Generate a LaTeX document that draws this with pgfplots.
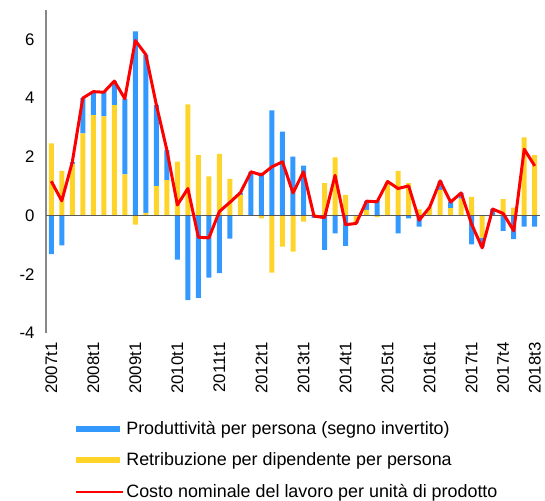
\documentclass[border=0pt]{standalone}
\usepackage{pgfplots}
\pgfplotsset{compat=1.18}
\usepackage{pgfplotstable}
\usepackage{fontspec}
\setmainfont{Liberation Sans}
\definecolor{cblue}{HTML}{3399FF}
\definecolor{cyel}{HTML}{FFD42A}
\definecolor{cred}{HTML}{FF0000}
\definecolor{zline}{HTML}{595959}
\definecolor{yline}{HTML}{888888}

\pgfplotstableread{
x ypos bpos yneg bneg ulc
0 2.46 0 0 -1.31 1.17
1 1.52 0 0 -1.02 0.50
2 1.76 0.06 0 0 1.82
3 2.80 1.20 0 0 4.00
4 3.42 0.80 0 0 4.22
5 3.38 0.82 0 0 4.20
6 3.76 0.82 0 0 4.58
7 1.40 2.58 0 0 3.98
8 0 6.27 -0.31 0 5.96
9 0.09 5.39 0 0 5.48
10 1.00 2.77 0 0 3.77
11 1.21 1.02 0 0 2.23
12 1.84 0 0 -1.50 0.36
13 3.79 0 0 -2.88 0.92
14 2.06 0 0 -2.80 -0.74
15 1.33 0 0 -2.11 -0.76
16 2.10 0 0 -1.96 0.14
17 1.25 0 0 -0.79 0.45
18 0.70 0.08 0 0 0.78
19 0 1.49 0 0 1.49
20 0 1.46 -0.10 0 1.38
21 0 3.58 -1.94 0 1.66
22 0 2.86 -1.06 0 1.83
23 0 2.01 -1.23 0 0.77
24 0 1.70 -0.21 0 1.49
25 0.05 0 0 -0.08 -0.02
26 1.10 0 0 -1.17 -0.07
27 1.98 0 0 -0.61 1.37
28 0.70 0 0 -1.03 -0.31
29 0 0 -0.22 -0.05 -0.27
30 0.19 0.30 0 0 0.49
31 0 0.52 -0.05 0 0.47
32 1.16 0 0 0 1.16
33 1.52 0 0 -0.61 0.92
34 1.10 0 0 -0.10 1.01
35 0.21 0 0 -0.38 -0.16
36 0.28 0 0 0 0.28
37 0.87 0.30 0 0 1.18
38 0.25 0.22 0 0 0.46
39 0.58 0.18 0 0 0.77
40 0.64 0 0 -0.98 -0.30
41 0 0 -0.75 -0.32 -1.10
42 0 0.22 0 0 0.22
43 0.56 0 0 -0.52 0.07
44 0.27 0 0 -0.80 -0.52
45 2.66 0 0 -0.38 2.26
46 2.06 0 0 -0.38 1.69
}\data

\pgfplotsset{base/.style={width=494bp,height=323bp,scale only axis,
  xmin=-0.5,xmax=46.5,ymin=-4,ymax=7}}

\begin{document}
\begin{tikzpicture}
\path (-46bp,-166bp) rectangle (499bp,333bp);
% positive stack + visible axis
\begin{axis}[base, ybar stacked, bar width=5bp,
  separate axis lines,
  axis x line*=bottom, axis y line*=left,
  x axis line style={draw=none},
  y axis line style={draw=yline, line width=1.3bp},
  xtick={0,4,...,40,43,46},
  xticklabels={2007t1,2008t1,2009t1,2010t1,2011t1,2012t1,2013t1,2014t1,2015t1,2016t1,2017t1,2017t4,2018t3},
  ytick={-4,-2,...,6},
  major tick length=0pt,
  tick style={draw=none},
  tick label style={font=\fontsize{16.8bp}{19bp}\selectfont},
  /pgf/number format/assume math mode=true,
  xticklabel style={rotate=90, anchor=east},
  xticklabel shift=6bp,
  yticklabel shift=8bp,
]
\addplot[fill=cyel, draw=none] table[x=x,y=ypos]{\data};
\addplot[fill=cblue, draw=none] table[x=x,y=bpos]{\data};
\end{axis}
% negative stack
\begin{axis}[base, hide axis, ybar stacked, bar width=5bp]
\addplot[fill=cyel, draw=none] table[x=x,y=yneg]{\data};
\addplot[fill=cblue, draw=none] table[x=x,y=bneg]{\data};
\end{axis}
% zero line, red line, legend
\begin{axis}[base, hide axis,
  legend style={at={(axis description cs:0.059,-0.266)}, anchor=north west,
    draw=none, fill=none, inner sep=0pt, row sep=13bp,
    font=\fontsize{17.9bp}{20bp}\selectfont,
    cells={anchor=west}},
]
\addplot[forget plot, draw=zline, line width=1.3bp] coordinates {(-0.5,0) (46.5,0)};
\addplot[forget plot, draw=cred, line width=3bp, line join=round] table[x=x,y=ulc]{\data};
\addlegendimage{legend image code/.code={\fill[cblue] (0bp,-2.6bp) rectangle (43bp,2.6bp);}}
\addlegendentry{Produttività per persona (segno invertito)}
\addlegendimage{legend image code/.code={\fill[cyel] (0bp,-2.6bp) rectangle (43bp,2.6bp);}}
\addlegendentry{Retribuzione per dipendente per persona}
\addlegendimage{legend image code/.code={\draw[cred, line width=2bp] (0bp,0bp) -- (47bp,0bp);}}
\addlegendentry{Costo nominale del lavoro per unità di prodotto}
\end{axis}
\end{tikzpicture}
\end{document}
